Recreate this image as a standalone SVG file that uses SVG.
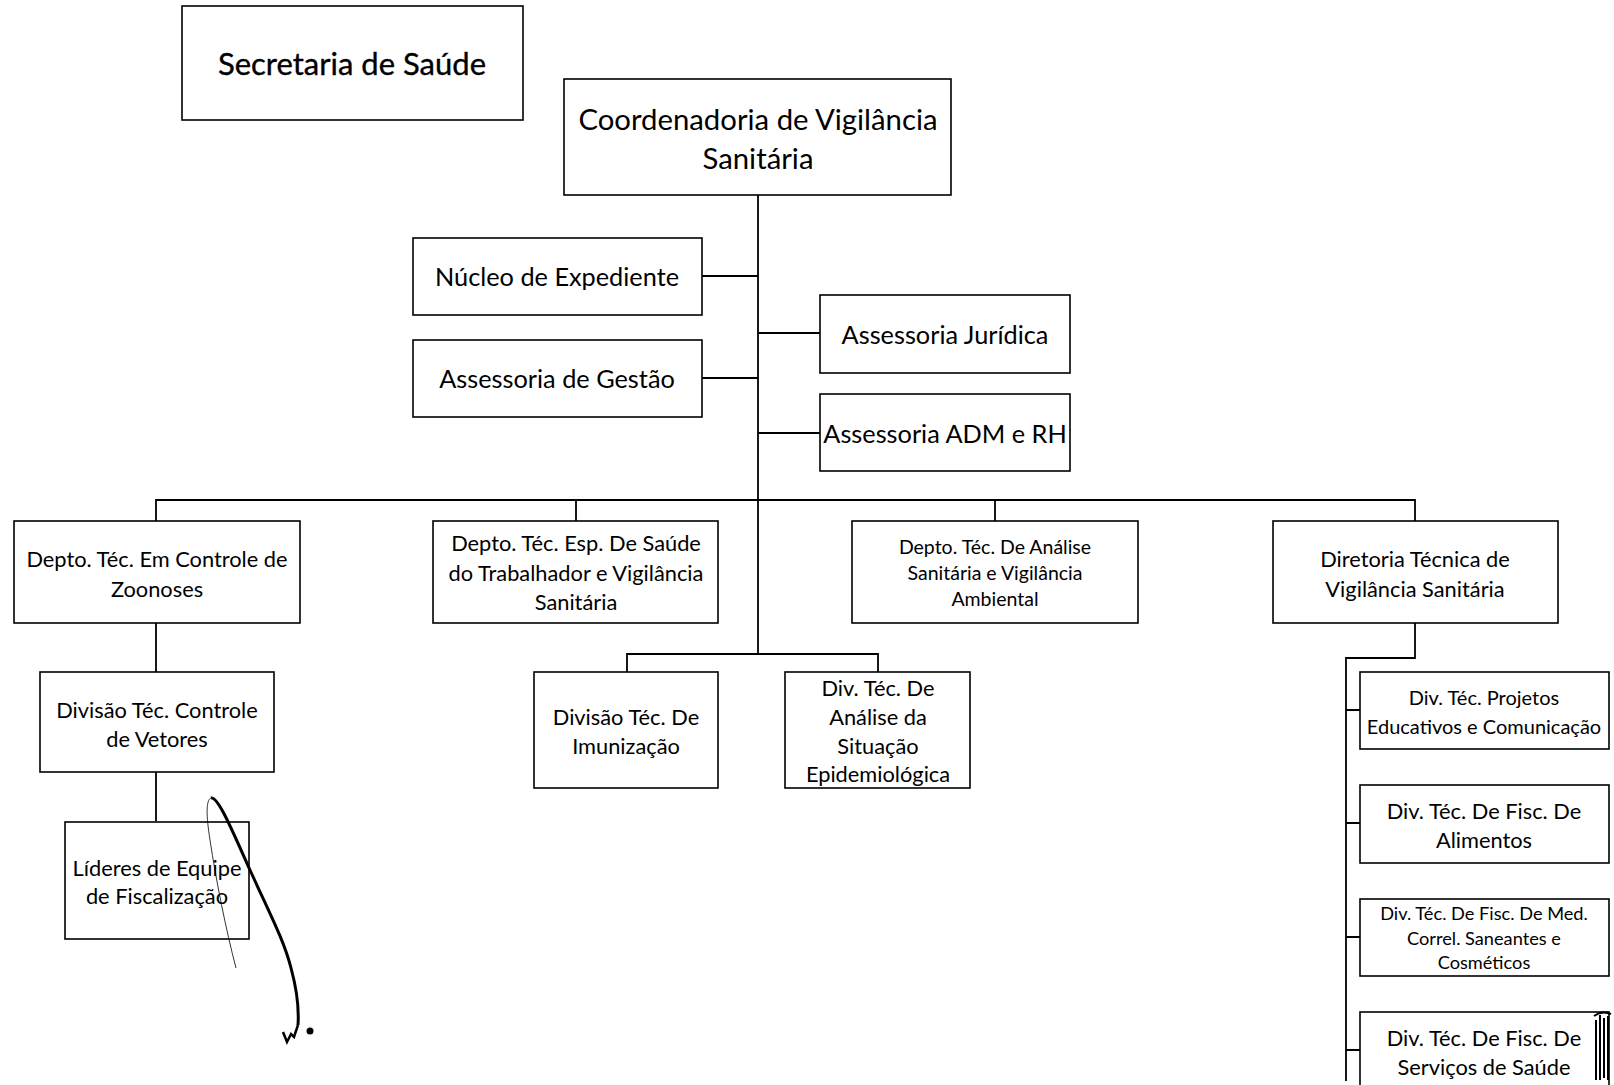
<svg xmlns="http://www.w3.org/2000/svg" width="1614" height="1085" viewBox="0 0 1614 1085">
<style>
rect.b{fill:#fff;stroke:#000;stroke-width:1.6}
text{font-family:Lato,"Open Sans","Liberation Sans",sans-serif;fill:#000;text-anchor:middle;dominant-baseline:central}
.l{stroke:#000;stroke-width:1.8;fill:none}
.s22{font-size:21.8px}
.s20{font-size:20px}
.s18{font-size:18.2px}
.s19{font-size:19.5px}
.s25{font-size:25.3px}
</style>
<rect width="1614" height="1085" fill="#fff"/>
<g id="connectors">
<path class="l" d="M758 195V654"/>
<path class="l" d="M702 276H758M702 378H758M758 333H820M758 433H820"/>
<path class="l" d="M156 521V500H1415V521M576 500V521M995 500V521"/>
<path class="l" d="M627 672V654H878V672"/>
<path class="l" d="M156 623V672M156 772V821"/>
<path class="l" d="M1415 623V658H1346V1081M1346 710H1360M1346 823H1360M1346 937H1360M1346 1050H1360"/>
</g>
<g id="n-secretaria"><rect class="b" x="182" y="6" width="341" height="114"/><text x="352" y="63" style="font-size:31px;stroke:#000;stroke-width:0.35">Secretaria de Saúde</text></g>
<g id="n-coord"><rect class="b" x="564" y="79" width="387" height="116"/><text x="758" y="118" style="font-size:29.3px">Coordenadoria de Vigilância</text><text x="758" y="157" style="font-size:29.3px">Sanitária</text></g>
<g id="n-nucleo"><rect class="b" x="413" y="238" width="289" height="77"/><text class="s25" x="557" y="276">Núcleo de Expediente</text></g>
<g id="n-gestao"><rect class="b" x="413" y="340" width="289" height="77"/><text class="s25" x="557" y="378">Assessoria de Gestão</text></g>
<g id="n-juridica"><rect class="b" x="820" y="295" width="250" height="78"/><text class="s25" x="945" y="334">Assessoria Jurídica</text></g>
<g id="n-adm"><rect class="b" x="820" y="394" width="250" height="77"/><text class="s25" x="945" y="433">Assessoria ADM e RH</text></g>
<g id="n-zoonoses"><rect class="b" x="14" y="521" width="286" height="102"/><text class="s22" x="157" y="558">Depto. Téc. Em Controle de</text><text class="s22" x="157" y="588">Zoonoses</text></g>
<g id="n-trabalhador"><rect class="b" x="433" y="521" width="285" height="102"/><text class="s22" x="576" y="542">Depto. Téc. Esp. De Saúde</text><text class="s22" x="576" y="572">do Trabalhador e Vigilância</text><text class="s22" x="576" y="601">Sanitária</text></g>
<g id="n-analise"><rect class="b" x="852" y="521" width="286" height="102"/><text class="s19" x="995" y="546">Depto. Téc. De Análise</text><text class="s19" x="995" y="572">Sanitária e Vigilância</text><text class="s19" x="995" y="598">Ambiental</text></g>
<g id="n-diretoria"><rect class="b" x="1273" y="521" width="285" height="102"/><text class="s22" x="1415" y="558">Diretoria Técnica de</text><text class="s22" x="1415" y="588">Vigilância Sanitária</text></g>
<g id="n-vetores"><rect class="b" x="40" y="672" width="234" height="100"/><text class="s22" x="157" y="709">Divisão Téc. Controle</text><text class="s22" x="157" y="738">de Vetores</text></g>
<g id="n-lideres"><rect class="b" x="65" y="822" width="184" height="117"/><text class="s22" x="157" y="867">Líderes de Equipe</text><text class="s22" x="157" y="895">de Fiscalização</text></g>
<g id="n-imunizacao"><rect class="b" x="534" y="672" width="184" height="116"/><text class="s22" x="626" y="716">Divisão Téc. De</text><text class="s22" x="626" y="745">Imunização</text></g>
<g id="n-epidemio"><rect class="b" x="785" y="672" width="185" height="116"/><text class="s22" x="878" y="687">Div. Téc. De</text><text class="s22" x="878" y="716">Análise da</text><text class="s22" x="878" y="745">Situação</text><text class="s22" x="878" y="773">Epidemiológica</text></g>
<g id="n-projetos"><rect class="b" x="1360" y="672" width="249" height="77"/><text class="s20" x="1484" y="697">Div. Téc. Projetos</text><text class="s20" x="1484" y="726">Educativos e Comunicação</text></g>
<g id="n-alimentos"><rect class="b" x="1360" y="785" width="249" height="78"/><text class="s22" x="1484" y="810">Div. Téc. De Fisc. De</text><text class="s22" x="1484" y="839">Alimentos</text></g>
<g id="n-med"><rect class="b" x="1360" y="899" width="249" height="77"/><text class="s18" x="1484" y="913">Div. Téc. De Fisc. De Med.</text><text class="s18" x="1484" y="938">Correl. Saneantes e</text><text class="s18" x="1484" y="962">Cosméticos</text></g>
<g id="n-servicos"><rect class="b" x="1360" y="1012" width="249" height="80"/><text class="s22" x="1484" y="1037">Div. Téc. De Fisc. De</text><text class="s22" x="1484" y="1066">Serviços de Saúde</text></g>
<g id="marks">
<path d="M236 968C226 930 216 880 210 840C206 815 206 800 211 798" fill="none" stroke="#000" stroke-width="0.8"/>
<path d="M211 798C218 796 232 830 250 870C268 910 284 940 291 968C297 990 299 1010 298 1025" fill="none" stroke="#000" stroke-width="3"/>
<path d="M298 1025L294 1037L291 1034L287 1042L283 1032" fill="none" stroke="#000" stroke-width="2.5"/>
<circle cx="310" cy="1031" r="3.5" fill="#000"/>
<path d="M1596 1020V1080M1600 1015V1080M1604 1018V1078M1608 1016V1080" fill="none" stroke="#000" stroke-width="2"/>
<path d="M1594 1016Q1602 1010 1611 1014" fill="none" stroke="#000" stroke-width="2"/>
</g>
</svg>
